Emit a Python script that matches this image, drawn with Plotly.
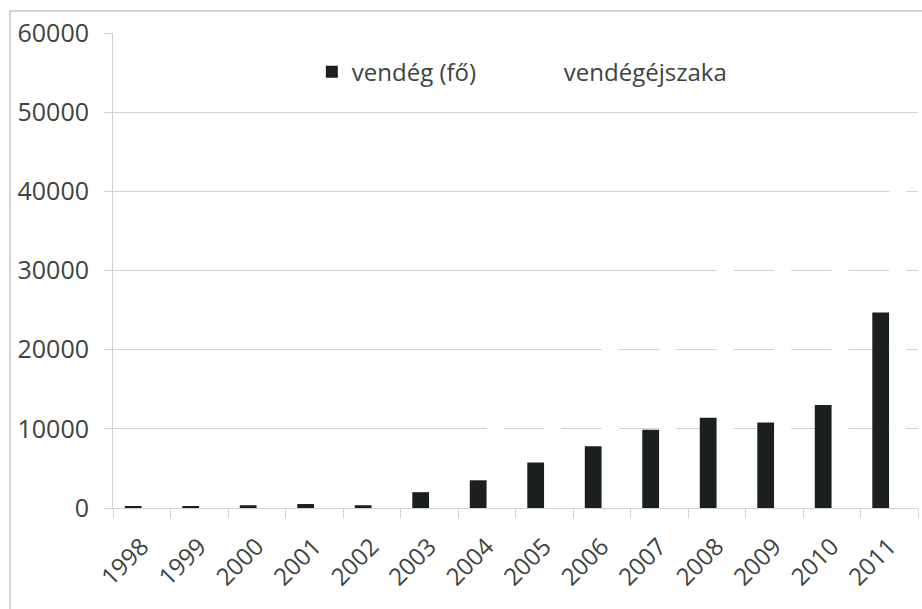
import plotly.graph_objects as go

years = ["1998", "1999", "2000", "2001", "2002", "2003", "2004",
         "2005", "2006", "2007", "2008", "2009", "2010", "2011"]
vendeg = [200, 200, 350, 500, 350, 2000, 3500, 5750, 7800, 9900,
          11400, 10800, 13000, 24700]
vendegejszaka = [600, 700, 1000, 1500, 1200, 6000, 11000, 17000,
                 23000, 28000, 33000, 32000, 36000, 44000]
y_ticks = [0, 10000, 20000, 30000, 40000, 50000, 60000]

txt = "#3d433f"
grid = "#d2d2d2"
font = "Open Sans"

fig = go.Figure()
fig.add_trace(go.Bar(x=years, y=vendeg, name="vendég (fő)",
                     marker=dict(color="#1b201d", line=dict(width=0))))
fig.add_trace(go.Bar(x=years, y=vendegejszaka, name="vendégéjszaka",
                     marker=dict(color="#ffffff", line=dict(width=0))))

fig.update_layout(
    width=922, height=609,
    margin=dict(l=113, r=4, t=33, b=101),
    paper_bgcolor="white", plot_bgcolor="white",
    barmode="group", bargap=0.41, bargroupgap=0,
    font=dict(family=font, size=24, color=txt),
    showlegend=True,
    legend=dict(orientation="h", x=0.247, y=0.965, xanchor="left", yanchor="top",
                font=dict(family=font, size=24, color=txt),
                bgcolor="rgba(0,0,0,0)", itemwidth=30, tracegroupgap=0,
                entrywidth=167, entrywidthmode="pixels",
                traceorder="normal"),
    xaxis=dict(showgrid=False, showline=True, linecolor=grid, linewidth=1,
               ticks="outside", tickson="boundaries", ticklen=9, tickcolor=grid,
               tickangle=-45, ticklabelstandoff=14,
               tickfont=dict(family=font, size=24, color=txt)),
    yaxis=dict(range=[0, 60000], tickvals=y_ticks, ticktext=[str(v) for v in y_ticks],
               showgrid=True, gridcolor=grid, gridwidth=1,
               showline=True, linecolor=grid, linewidth=1,
               ticks="outside", ticklen=8, tickcolor=grid,
               ticklabelstandoff=10,
               tickfont=dict(family=font, size=25, color=txt), zeroline=False),
    shapes=[dict(type="rect", xref="paper", yref="paper",
                 x0=(10 - 113) / 805, x1=1.05, y0=-0.25, y1=(507.5 - 11) / 474.5,
                 line=dict(color="#c4c4c4", width=1.5), layer="below")],
)

fig.write_html("out.html")
